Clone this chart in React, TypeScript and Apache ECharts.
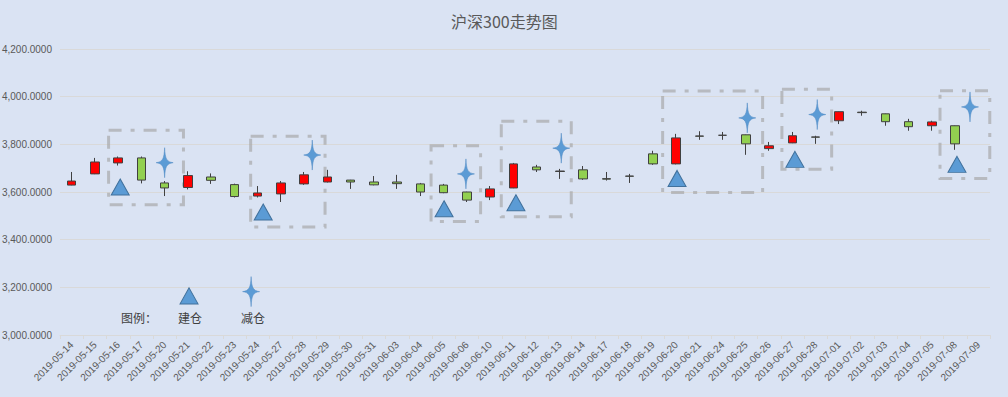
import React, { useEffect, useRef } from 'react';
import * as echarts from 'echarts';

// ---- data ----
const dates = [
  '2019-05-14', '2019-05-15', '2019-05-16', '2019-05-17', '2019-05-20', '2019-05-21', '2019-05-22', '2019-05-23',
  '2019-05-24', '2019-05-27', '2019-05-28', '2019-05-29', '2019-05-30', '2019-05-31', '2019-06-03', '2019-06-04',
  '2019-06-05', '2019-06-06', '2019-06-10', '2019-06-11', '2019-06-12', '2019-06-13', '2019-06-14', '2019-06-17',
  '2019-06-18', '2019-06-19', '2019-06-20', '2019-06-21', '2019-06-24', '2019-06-25', '2019-06-26', '2019-06-27',
  '2019-06-28', '2019-07-01', '2019-07-02', '2019-07-03', '2019-07-04', '2019-07-05', '2019-07-08', '2019-07-09',
];

// [open, close, low, high]
const ohlc: (number[] | string)[] = [
  [3629, 3646, 3628, 3684],
  [3676, 3726, 3675, 3743],
  [3722, 3743, 3711, 3749],
  [3743, 3650, 3636, 3749],
  [3638, 3617, 3583, 3646],
  [3619, 3669, 3611, 3687],
  [3663, 3649, 3634, 3678],
  [3631, 3581, 3577, 3635],
  [3583, 3596, 3577, 3625],
  [3592, 3638, 3558, 3646],
  [3634, 3672, 3630, 3684],
  [3642, 3663, 3640, 3693],
  [3650, 3642, 3613, 3651],
  [3642, 3630, 3628, 3667],
  [3642, 3635, 3613, 3672],
  [3634, 3600, 3583, 3638],
  [3629, 3597, 3595, 3634],
  [3600, 3566, 3558, 3601],
  [3579, 3613, 3566, 3625],
  [3617, 3718, 3616, 3722],
  [3705, 3693, 3684, 3714],
  [3688, 3686, 3655, 3697],
  [3693, 3655, 3651, 3709],
  [3656, 3654, 3648, 3684],
  [3667, 3666, 3638, 3676],
  [3760, 3718, 3714, 3773],
  [3718, 3827, 3716, 3844],
  [3835, 3834, 3819, 3855],
  [3838, 3838, 3819, 3852],
  [3840, 3802, 3756, 3841],
  [3782, 3794, 3773, 3810],
  [3806, 3836, 3805, 3852],
  [3831, 3830, 3802, 3836],
  [3899, 3937, 3885, 3938],
  [3935, 3933, 3920, 3941],
  [3928, 3895, 3878, 3929],
  [3895, 3874, 3857, 3907],
  [3878, 3894, 3857, 3899],
  [3878, 3802, 3777, 3879],
  '-',
];

const yMin = 3000;
const yMax = 4200;
const yInterval = 200;

// markers: position in category units (category i spans i..i+1), value on price axis
const buildPos = [2.59, 8.74, 16.52, 19.61, 26.54, 31.61, 38.58];
const buildVal = [3621, 3516, 3530, 3555, 3657, 3737, 3716];
const reducePos = [4.5, 10.85, 17.46, 21.56, 29.56, 32.57, 39.14];
const reduceVal = [3723, 3755, 3676, 3784, 3911, 3925, 3957];

// highlight boxes: [xStart, yTop, xEnd, yBottom]
const boxes = [
  [2.09, 3859, 5.31, 3547],
  [8.2, 3834, 11.4, 3453],
  [15.96, 3794, 18.09, 3476],
  [18.98, 3897, 21.99, 3496],
  [25.92, 4024, 30.22, 3598],
  [31.05, 4031, 33.19, 3695],
  [37.85, 4025, 39.99, 3657],
];

const legendBuild = [5.55, 3164];
const legendReduce = [8.22, 3182];

const title = '沪深300走势图';
const legendTexts = ['图例：', '建仓', '减仓'];

const STAR = 'path://M50,0 C53,38 62,47 100,50 C62,53 53,62 50,100 C47,62 38,53 0,50 C38,47 47,38 50,0 Z';

export default function App() {
  const ref = useRef<HTMLDivElement>(null);
  useEffect(() => {
    document.body.style.margin = '0';
    const chart = echarts.init(ref.current!, undefined, { renderer: 'svg' });
    const labelColor = '#595959';
    const legendFont = '12px "Noto Sans CJK SC"';
    const option: any = {
      animation: false,
      backgroundColor: '#dae3f3',
      title: {
        text: title,
        left: 446,
        top: 8,
        textStyle: { fontSize: 16, fontWeight: 'normal', color: labelColor, fontFamily: 'Noto Sans CJK SC' },
      },
      grid: { left: 60, right: 18, top: 49, bottom: 62, outerBoundsMode: 'none' },
      xAxis: [
        {
          type: 'category',
          data: dates,
          axisLine: { lineStyle: { color: '#d9d9d9' } },
          axisTick: { show: true, length: 4, lineStyle: { color: '#d9d9d9' } },
          axisLabel: { rotate: 45, fontSize: 10, color: labelColor, fontFamily: 'Liberation Sans', interval: 0, margin: 8 },
          splitLine: { show: false },
        },
        { type: 'value', min: 0, max: 40, show: false },
      ],
      yAxis: {
        type: 'value',
        min: yMin,
        max: yMax,
        interval: yInterval,
        axisLine: { show: false },
        axisTick: { show: false },
        axisLabel: {
          fontSize: 10,
          color: labelColor,
          fontFamily: 'Liberation Sans',
          margin: 8,
          formatter: (v: number) => v.toLocaleString('en-US', { minimumFractionDigits: 4, maximumFractionDigits: 4 }),
        },
        splitLine: { lineStyle: { color: '#d9d9d9' } },
      },
      graphic: [
        { type: 'text', x: 139, y: 317, style: { text: legendTexts[0], fill: '#404040', font: legendFont, textAlign: 'center', textVerticalAlign: 'middle' } },
        { type: 'text', x: 190, y: 317, style: { text: legendTexts[1], fill: '#404040', font: legendFont, textAlign: 'center', textVerticalAlign: 'middle' } },
        { type: 'text', x: 253, y: 317, style: { text: legendTexts[2], fill: '#404040', font: legendFont, textAlign: 'center', textVerticalAlign: 'middle' } },
      ],
      series: [
        {
          type: 'candlestick',
          name: title,
          data: ohlc,
          barWidth: 9,
          itemStyle: {
            color: '#ff0000',
            color0: '#92d050',
            borderColor: '#404040',
            borderColor0: '#404040',
            borderColorDoji: '#404040',
            borderWidth: 1,
          },
        },
        {
          type: 'scatter',
          name: 'boxes',
          xAxisIndex: 1,
          data: [],
          silent: true,
          markArea: {
            silent: true,
            itemStyle: {
              color: 'rgba(0,0,0,0)',
              borderColor: 'rgba(165,165,165,0.65)',
              borderWidth: 3,
              borderType: [13, 9, 4, 9],
            },
            data: boxes.map((b) => [{ coord: [b[0], b[1]] }, { coord: [b[2], b[3]] }]),
          },
        },
        {
          type: 'scatter',
          name: '建仓',
          xAxisIndex: 1,
          symbol: 'triangle',
          symbolSize: [18, 16],
          itemStyle: { color: '#5b9bd5', borderColor: '#41719c', borderWidth: 1, opacity: 1 },
          data: [...buildPos.map((x, i) => [x, buildVal[i]]), legendBuild],
        },
        {
          type: 'scatter',
          name: '减仓',
          xAxisIndex: 1,
          symbol: STAR,
          symbolSize: [17, 30],
          symbolKeepAspect: false,
          itemStyle: { color: '#5b9bd5', borderColor: '#4f89c4', borderWidth: 0.5, opacity: 1 },
          data: [...reducePos.map((x, i) => [x, reduceVal[i]]), legendReduce],
        },
      ],
    };
    chart.setOption(option);
    return () => chart.dispose();
  }, []);
  return <div ref={ref} style={{ width: 1008, height: 397, position: 'absolute', left: 0, top: 0 }} />;
}
